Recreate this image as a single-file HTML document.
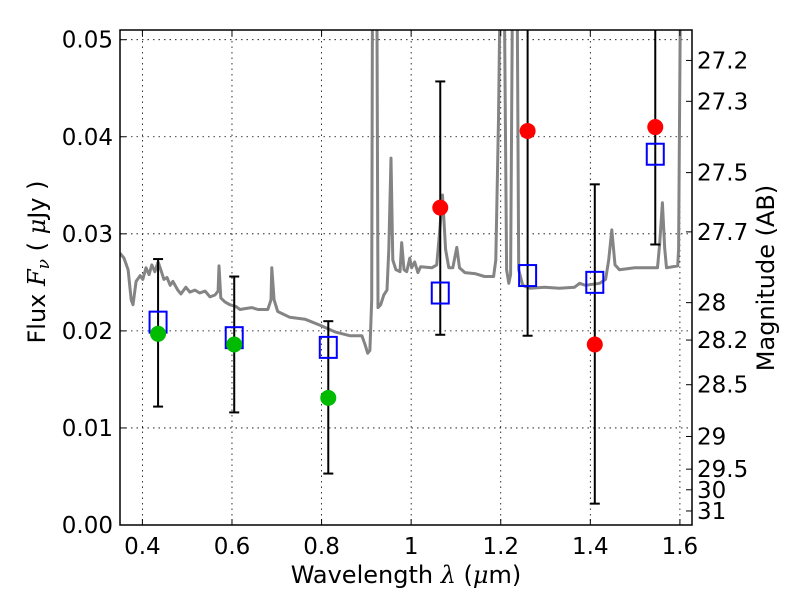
<!DOCTYPE html>
<html><head><meta charset="utf-8"><style>
body{margin:0;background:#fff}
svg{font-family:"DejaVu Sans","Liberation Sans",sans-serif}
</style></head><body>
<svg id="chart" width="800" height="600" viewBox="0 0 800 600" xmlns="http://www.w3.org/2000/svg">
<rect width="800" height="600" fill="#fff"/>
<defs><clipPath id="pc"><rect x="120" y="30" width="572" height="495"/></clipPath></defs>
<g id="grid"></g>
<g id="spec" clip-path="url(#pc)"></g>
<g id="errs" clip-path="url(#pc)"></g>
<g id="marks" clip-path="url(#pc)"></g>
<rect x="120" y="30" width="572" height="495" fill="none" stroke="#000" stroke-width="1.5"/>
<g id="axes"></g>
<text x="406" y="583" font-size="24" text-anchor="middle">Wavelength  <tspan font-style="italic" font-family="DejaVu Serif, serif">λ</tspan> (<tspan font-style="italic" font-family="DejaVu Serif, serif">μ</tspan>m)</text>
<text transform="translate(45,262) rotate(-90)" font-size="24" text-anchor="middle">Flux  <tspan font-style="italic" font-family="DejaVu Serif, serif">F<tspan font-size="17" dy="4">ν</tspan></tspan><tspan dy="-4"> (  </tspan><tspan font-style="italic" font-family="DejaVu Serif, serif">μ</tspan>Jy )</text>
<text transform="translate(774,278) rotate(-90)" font-size="24" text-anchor="middle">Magnitude (AB)</text>
</svg>
<script>
const specLam=[0.350,0.359,0.368,0.375,0.379,0.386,0.395,0.401,0.408,0.415,0.421,0.428,0.435,0.441,0.448,0.455,0.462,0.468,0.479,0.486,0.497,0.506,0.517,0.528,0.540,0.551,0.562,0.569,0.571,0.575,0.584,0.595,0.609,0.618,0.629,0.644,0.658,0.680,0.687,0.689,0.694,0.702,0.729,0.763,0.796,0.830,0.863,0.890,0.897,0.903,0.908,0.912,0.914,0.923,0.926,0.932,0.939,0.946,0.950,0.955,0.959,0.966,0.975,0.979,0.984,0.990,0.997,1.001,1.008,1.015,1.021,1.046,1.057,1.064,1.070,1.077,1.084,1.093,1.102,1.108,1.120,1.142,1.164,1.184,1.189,1.195,1.200,1.207,1.213,1.218,1.222,1.227,1.236,1.240,1.249,1.265,1.298,1.331,1.365,1.376,1.389,1.421,1.434,1.441,1.448,1.455,1.465,1.499,1.521,1.550,1.555,1.561,1.566,1.570,1.595,1.597,1.602,1.63];
const specFlux=[0.0280,0.0275,0.0263,0.0232,0.0227,0.0251,0.0257,0.0253,0.0265,0.0258,0.0268,0.0261,0.0271,0.0263,0.0253,0.0255,0.0247,0.0251,0.0242,0.0238,0.0245,0.0240,0.0242,0.0239,0.0241,0.0235,0.0237,0.0241,0.0267,0.0234,0.0230,0.0227,0.0225,0.0222,0.0223,0.0224,0.0222,0.0222,0.0232,0.0265,0.0232,0.0220,0.0214,0.0212,0.0206,0.0199,0.0195,0.0195,0.0186,0.0177,0.0180,0.0232,0.060,0.060,0.0224,0.0227,0.0237,0.0242,0.0284,0.0378,0.0273,0.0263,0.0261,0.0291,0.0263,0.0261,0.0275,0.0265,0.0271,0.0260,0.0266,0.0265,0.0268,0.0304,0.0340,0.0284,0.0265,0.0265,0.0286,0.0265,0.0260,0.0259,0.0256,0.0256,0.0273,0.0418,0.060,0.060,0.0263,0.0249,0.0258,0.060,0.060,0.0263,0.0247,0.0244,0.0245,0.0244,0.0245,0.0249,0.0247,0.0249,0.0253,0.0273,0.0304,0.0268,0.0263,0.0265,0.0265,0.0265,0.0290,0.0332,0.0285,0.0265,0.0267,0.0284,0.060,0.060];
const greenLam=[0.435,0.605,0.815];
const greenFlux=[0.0197,0.0186,0.0131];
const blueLam=[0.435,0.605,0.815,1.065,1.26,1.41,1.545];
const blueFlux=[0.0209,0.0193,0.0183,0.0239,0.0257,0.0250,0.0382];
const redLam=[1.065,1.26,1.41,1.545];
const redFlux=[0.0327,0.0406,0.0186,0.0410];
const errLam=[0.435,0.605,0.815,1.065,1.26,1.41,1.545];
const errLo=[0.0122,0.0116,0.0053,0.0196,0.0195,0.0022,0.0289];
const errHi=[0.0274,0.0256,0.0210,0.0457,0.0600,0.0351,0.0600];
const xTicks=[0.4,0.6,0.8,1.0,1.2,1.4,1.6];
const xTickLabels=["0.4","0.6","0.8","1","1.2","1.4","1.6"];
const yTicks=[0,0.01,0.02,0.03,0.04,0.05];
const yTickLabels=["0.00","0.01","0.02","0.03","0.04","0.05"];
const magTicks=[27.2,27.3,27.5,27.7,28,28.2,28.5,29,29.5,30,31];

const NS="http://www.w3.org/2000/svg";
const X0=120,X1=692,Y0=525,Y1=30,XMIN=0.35,XMAX=1.627,YMIN=0,YMAX=0.0510;
const xs=v=>X0+(v-XMIN)/(XMAX-XMIN)*(X1-X0);
const ys=v=>Y0-(v-YMIN)/(YMAX-YMIN)*(Y0-Y1);
function mk(tag,attrs,parent){const e=document.createElementNS(NS,tag);for(const k in attrs)e.setAttribute(k,attrs[k]);parent.appendChild(e);return e;}
const grid=document.getElementById('grid'),axes=document.getElementById('axes');
xTicks.forEach((t,i)=>{const x=xs(t);
 let g=mk('line',{x1:x,x2:x,y1:Y1,y2:Y0,stroke:'#000','stroke-width':0.8,'stroke-dasharray':'1.5,4'},grid);
 
 mk('line',{x1:x,x2:x,y1:Y0,y2:Y0-6,stroke:'#000'},axes);mk('line',{x1:x,x2:x,y1:Y1,y2:Y1+6,stroke:'#000'},axes);
 let tx=mk('text',{x:x,y:554,'font-size':23,'text-anchor':'middle'},axes);tx.textContent=xTickLabels[i];
 });
yTicks.forEach((t,i)=>{const y=ys(t);
 let g=mk('line',{x1:X0,x2:X1,y1:y,y2:y,stroke:'#000','stroke-width':0.8,'stroke-dasharray':'1.5,4'},grid);
 
 mk('line',{x1:X0,x2:X0+6,y1:y,y2:y,stroke:'#000'},axes);
 let tx=mk('text',{x:113,y:y+8,'font-size':23,'text-anchor':'end'},axes);tx.textContent=yTickLabels[i];
 });
magTicks.forEach(m=>{const f=Math.pow(10,(23.9-m)/2.5);const y=ys(f);
 mk('line',{x1:X1-6,x2:X1,y1:y,y2:y,stroke:'#000'},axes);
 let tx=mk('text',{x:697,y:y+8,'font-size':23},axes);tx.textContent=String(m);
 });
const spec=document.getElementById('spec');
let d=specLam.map((l,i)=>(i?'L':'M')+xs(l).toFixed(1)+','+ys(specFlux[i]).toFixed(1)).join('');
let p=mk('path',{d:d,fill:'none',stroke:'#848484','stroke-width':3,'stroke-linejoin':'round'},spec);

const errs=document.getElementById('errs');
errLam.forEach((l,i)=>{const x=xs(l),a=ys(errLo[i]),b=ys(errHi[i]);
 let g=mk('g',{stroke:'#000','stroke-width':2},errs);
 
 mk('line',{x1:x,x2:x,y1:a,y2:b},g);mk('line',{x1:x-5,x2:x+5,y1:a,y2:a},g);mk('line',{x1:x-5,x2:x+5,y1:b,y2:b},g);});
const marks=document.getElementById('marks');
blueLam.forEach((l,i)=>{let r=mk('rect',{x:xs(l)-8.5,y:ys(blueFlux[i])-10.5,width:17,height:21,fill:'none',stroke:'#0000ff','stroke-width':2},marks);
 });
greenLam.forEach((l,i)=>{let c=mk('circle',{cx:xs(l),cy:ys(greenFlux[i]),r:8,fill:'#00bb00'},marks);
 });
redLam.forEach((l,i)=>{let c=mk('circle',{cx:xs(l),cy:ys(redFlux[i]),r:8,fill:'#ff0000'},marks);
 });
</script>
</body></html>
